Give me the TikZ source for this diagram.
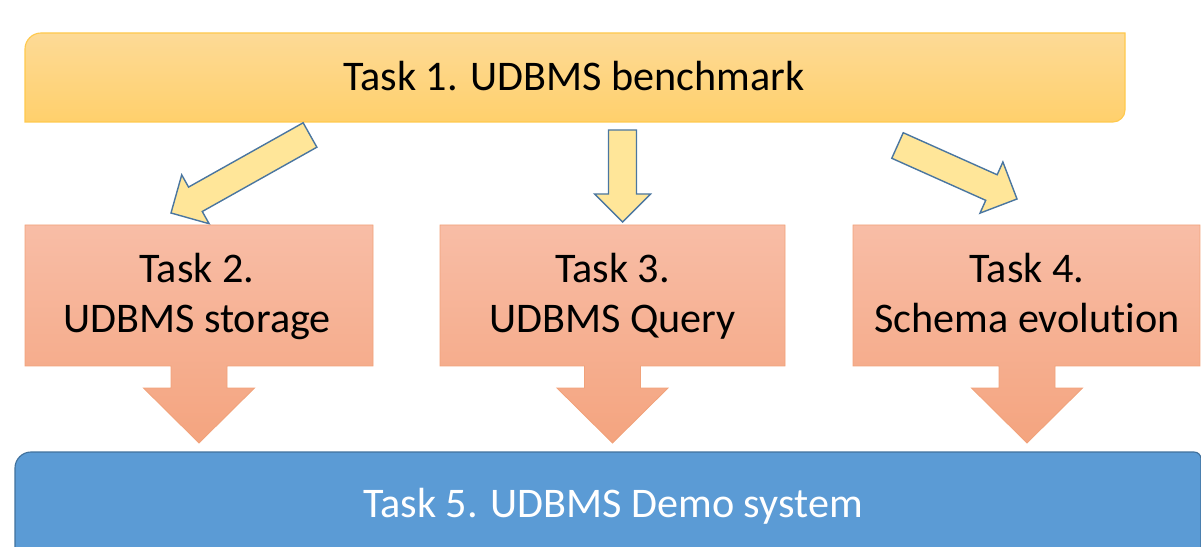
\documentclass[tikz,border=0pt]{standalone}
\usepackage{fontspec}
\setmainfont[Ligatures = NoCommon]{Carlito}
\usetikzlibrary{calc}

\definecolor{benchtop}{HTML}{FDDA96}
\definecolor{benchbottom}{HTML}{FFD06C}
\definecolor{benchline}{HTML}{FFC94D}
\definecolor{tasktop}{HTML}{F8BDA6}
\definecolor{taskbottom}{HTML}{F4A47F}
\definecolor{taskline}{HTML}{F1A27A}
\definecolor{arrowfill}{HTML}{FFE699}
\definecolor{arrowline}{HTML}{4A76A0}
\definecolor{demofill}{HTML}{5B9BD5}
\definecolor{demoline}{HTML}{41719C}

\tikzset{
	taskbox/.style = {top color = tasktop, bottom color = taskbottom, draw = taskline, line width = 0.6pt},
	yellowarrow/.style = {fill = arrowfill, draw = arrowline, line width = 1pt, line join = miter},
	tasktext/.style = {align = center, font = \fontsize{30}{35.6}\selectfont, inner sep = 0pt, anchor = base},
	bartext/.style = {anchor = base, font = \fontsize{30}{36}\selectfont, inner sep = 0pt}
}

\begin{document}
\begin{tikzpicture}[x = 0.025cm, y = 0.025cm]

	\useasboundingbox (0, 0) rectangle (1201, 546);
	\clip (0, 0) rectangle (1201, 546);

	% Benchmark bar
	
	\draw [top color = benchtop, bottom color = benchbottom, draw = benchline, line width = 0.8pt]
		(25, 424) -- (25, 497) .. controls (25, 505.8) and (32.2, 513) .. (41, 513)
		-- (1125, 513) -- (1125, 436) .. controls (1125, 429.4) and (1119.6, 424) .. (1113, 424) -- cycle;
	\node [bartext] (task1) at (574, 455) {Task 1. UDBMS benchmark};
	
	% Yellow arrows
	
	\coordinate (tailA) at (310, 411);   \coordinate (tipA) at (171, 333);
	\coordinate (tailB) at (622.5, 416); \coordinate (tipB) at (622.5, 324);
	\coordinate (tailC) at (897.5, 400.5); \coordinate (tipC) at (1017, 347);
	
	\foreach \s/\t in {tailA/tipA, tailB/tipB, tailC/tipC}
	{
		\coordinate (base) at ($(\t)!0.7cm!(\s)$);
		\draw [yellowarrow] ($(\s)!0.35cm!90:(\t)$) -- ($(base)!0.35cm!-90:(\s)$) -- ($(base)!0.7cm!-90:(\s)$) -- (\t)
			-- ($(base)!0.7cm!90:(\s)$) -- ($(base)!0.35cm!90:(\s)$) -- ($(\s)!0.35cm!-90:(\t)$) -- cycle;
	}
	
	% Task boxes with down arrows
	
	\foreach \l/\r/\c in {25/373/199, 440/785/612.5, 853/1200/1027}
		\draw [taskbox] (\l, 321) -- (\r, 321) -- (\r, 180) -- (\c + 28, 180) -- (\c + 28, 158) -- (\c + 55.5, 158)
			-- (\c, 103) -- (\c - 55.5, 158) -- (\c - 28, 158) -- (\c - 28, 180) -- (\l, 180) -- cycle;
	
	\node [tasktext] (task2) at (197, 213) {Task 2.\\UDBMS storage};
	\node [tasktext] (task3) at (612.5, 213) {Task 3.\\UDBMS Query};
	\node [tasktext] (task4) at (1027, 213) {Task 4.\\Schema evolution};
	
	% Demo system bar
	
	\draw [fill = demofill, draw = demoline, line width = 0.8pt]
		(15, -5) -- (15, 78) .. controls (15, 86.8) and (22.2, 94) .. (31, 94)
		-- (1194, 94) .. controls (1198, 94) and (1201, 91) .. (1201, 87) -- (1201, -5);
	\node [bartext, text = white] (task5) at (613, 29) {Task 5. UDBMS Demo system};

\end{tikzpicture}
\end{document}
